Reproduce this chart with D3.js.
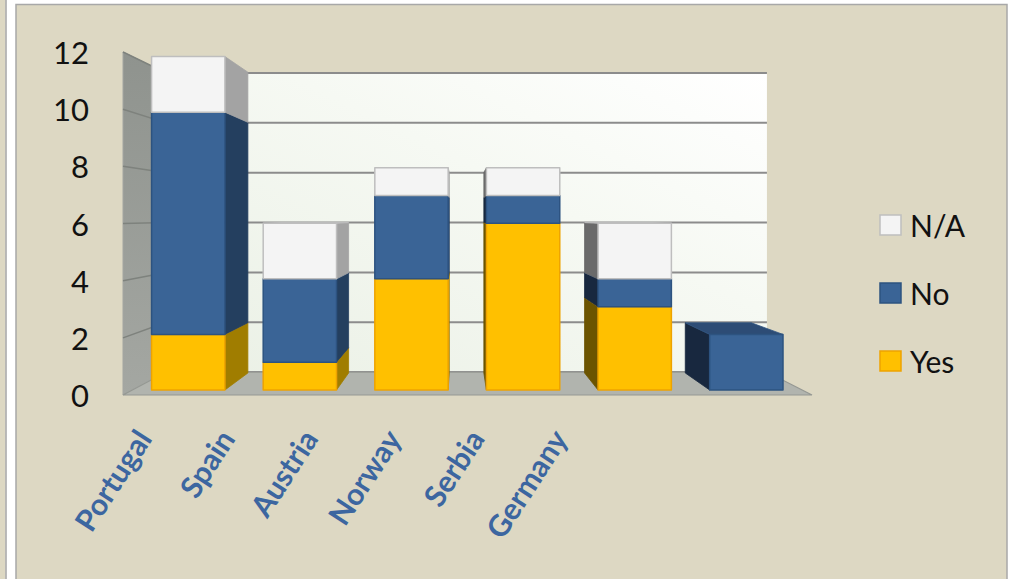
<!DOCTYPE html>
<html>
<head>
<meta charset="utf-8">
<script src="https://cdn.jsdelivr.net/npm/d3@7"></script>
<style>
  html, body { margin: 0; padding: 0; background: #ffffff; }
  svg { display: block; }
</style>
</head>
<body>
<svg id="chart" width="1009" height="579"></svg>
<script>
// ---- data ----
const categories = ["Portugal", "Spain", "Austria", "Norway", "Serbia", "Germany"];
const seriesNames = ["Yes", "No", "N/A"];
const yesValues = [2, 1, 4, 6, 3, 0];
const noValues  = [8, 3, 3, 1, 1, 2];
const naValues  = [2, 2, 1, 1, 2, 0];
const yTicks = [0, 2, 4, 6, 8, 10, 12];
const legendOrder = ["N/A", "No", "Yes"];

// ---- style ----
const palette = {
  "Yes": { front: "#FFC000", stroke: "#EEA300", right: "#A07D00", left: "#6C5400", top: "#E2AA00" },
  "No":  { front: "#3A6496", stroke: "#2D5380", right: "#243F5F", left: "#18283F", top: "#2D4C75" },
  "N/A": { front: "#F4F4F4", stroke: "#BEBEBE", right: "#A3A3A3", left: "#6A6A6A", top: "#DADADA" }
};

const svg = d3.select("#chart");
const W = 1009, H = 579;

// page frame
svg.append("rect").attr("x", 0).attr("y", 0).attr("width", W).attr("height", H).attr("fill", "#ffffff");
svg.append("rect").attr("x", 0).attr("y", 0).attr("width", 5.5).attr("height", H).attr("fill", "#DDD8C3");
svg.append("line").attr("x1", 6).attr("x2", 6).attr("y1", 0).attr("y2", H).attr("stroke", "#A5A5A5").attr("stroke-width", 1.5);
svg.append("rect").attr("x", 16).attr("y", 4.5).attr("width", 991).attr("height", H).attr("fill", "#DDD8C3")
  .attr("stroke", "#A8A8A8").attr("stroke-width", 1.5);

// ---- scales ----
const x = d3.scaleBand().domain(categories).range([123, 812]).paddingInner(0.343).paddingOuter(0.1715);
const y = d3.scaleLinear().domain([0, 12]).range([395, 52]);

// perspective: depth given as a scale factor toward the vanishing point
const vx = 460, vy = 216;
const S_BAR_FRONT = 0.972, S_BAR_BACK = 0.877, S_WALL = 0.872;
const P = (px, py, s) => [vx + s * (px - vx), vy + s * (py - vy)];
const poly = pts => "M" + pts.map(p => p[0].toFixed(2) + "," + p[1].toFixed(2)).join("L") + "Z";

const defs = svg.append("defs");
const gWall = defs.append("linearGradient").attr("id", "wallGrad")
  .attr("x1", "0").attr("y1", "1").attr("x2", "1").attr("y2", "0");
gWall.append("stop").attr("offset", "0").attr("stop-color", "#EAF0E5");
gWall.append("stop").attr("offset", "0.6").attr("stop-color", "#F6F9F3");
gWall.append("stop").attr("offset", "1").attr("stop-color", "#FFFFFF");
const gSide = defs.append("linearGradient").attr("id", "sideGrad")
  .attr("x1", "0").attr("y1", "0").attr("x2", "0").attr("y2", "1");
gSide.append("stop").attr("offset", "0").attr("stop-color", "#8F938E");
gSide.append("stop").attr("offset", "1").attr("stop-color", "#A4A7A2");

const [x0, x1] = x.range();
const yMax = y(d3.max(yTicks)), yMin = y(0);

// ---- walls and floor ----
svg.append("path").attr("d", poly([P(x0, yMax, S_WALL), P(x1, yMax, S_WALL), P(x1, yMin, S_WALL), P(x0, yMin, S_WALL)]))
  .attr("fill", "url(#wallGrad)");
svg.append("path").attr("d", poly([P(x0, yMax, 1), P(x0, yMax, S_WALL), P(x0, yMin, S_WALL), P(x0, yMin, 1)]))
  .attr("fill", "url(#sideGrad)").attr("stroke", "#A3A6A1").attr("stroke-width", 1);

// gridlines on back wall and side wall
const grid = svg.append("g").attr("stroke", "#8C8C8C").attr("stroke-width", 2).attr("fill", "none");
yTicks.forEach(t => {
  const a = P(x0, y(t), S_WALL), b = P(x1, y(t), S_WALL);
  grid.append("line").attr("x1", a[0]).attr("y1", a[1]).attr("x2", b[0]).attr("y2", b[1]);
  const c = P(x0, y(t), 1);
  if (t > 0) grid.append("line").attr("x1", c[0]).attr("y1", c[1]).attr("x2", a[0]).attr("y2", a[1])
    .attr("stroke", "#7E827D").attr("stroke-width", 1.5);
});

svg.append("path").attr("d", poly([P(x0, yMin, 1), P(x1, yMin, 1), P(x1, yMin, S_WALL), P(x0, yMin, S_WALL)]))
  .attr("fill", "#B1B4AE").attr("stroke", "#959893").attr("stroke-width", 1.2);

// ---- stacked boxes ----
const rows = categories.map((c, i) => ({ category: c, "Yes": yesValues[i], "No": noValues[i], "N/A": naValues[i] }));
const layers = d3.stack().keys(seriesNames)(rows);

const segments = [];
layers.forEach((layer, si) => {
  layer.forEach((d, ci) => {
    if (d[1] > d[0]) segments.push({ key: layer.key, si, ci, y0: d[0], y1: d[1], category: d.data.category });
  });
});
segments.sort((a, b) => a.ci - b.ci || a.si - b.si);

const bars = svg.append("g");
segments.forEach(sg => {
  const c = palette[sg.key];
  const xl = x(sg.category), xr = xl + x.bandwidth();
  const yb = y(sg.y0), yt = y(sg.y1);
  const g = bars.append("g").attr("stroke-linejoin", "round");
  if (xr < vx) {
    g.append("path").attr("d", poly([P(xr, yt, S_BAR_FRONT), P(xr, yt, S_BAR_BACK), P(xr, yb, S_BAR_BACK), P(xr, yb, S_BAR_FRONT)]))
      .attr("fill", c.right).attr("stroke", c.right).attr("stroke-width", 0.8);
  }
  if (xl > vx) {
    g.append("path").attr("d", poly([P(xl, yt, S_BAR_FRONT), P(xl, yt, S_BAR_BACK), P(xl, yb, S_BAR_BACK), P(xl, yb, S_BAR_FRONT)]))
      .attr("fill", c.left).attr("stroke", c.left).attr("stroke-width", 0.8);
  }
  if (yt > vy) {
    g.append("path").attr("d", poly([P(xl, yt, S_BAR_FRONT), P(xr, yt, S_BAR_FRONT), P(xr, yt, S_BAR_BACK), P(xl, yt, S_BAR_BACK)]))
      .attr("fill", c.top).attr("stroke", c.stroke).attr("stroke-width", 0.8);
  }
  g.append("path").attr("d", poly([P(xl, yt, S_BAR_FRONT), P(xr, yt, S_BAR_FRONT), P(xr, yb, S_BAR_FRONT), P(xl, yb, S_BAR_FRONT)]))
    .attr("fill", c.front).attr("stroke", c.stroke).attr("stroke-width", 1.5);
});

// ---- value axis labels ----
svg.append("g").selectAll("text").data(yTicks).join("text")
  .attr("x", 89).attr("y", d => y(d))
  .attr("text-anchor", "end").attr("dominant-baseline", "central")
  .attr("font-family", "Lato, 'Open Sans', sans-serif").attr("font-size", 31)
  .attr("fill", "#111111").text(d => d);

// ---- category labels ----
const labelX = d3.scalePoint().domain(categories).range([153, 569]);
svg.append("g").selectAll("text").data(categories).join("text")
  .attr("transform", d => `translate(${labelX(d)},439) rotate(-57)`)
  .attr("text-anchor", "end")
  .attr("font-family", "Lato, 'Open Sans', sans-serif").attr("font-weight", "bold").attr("font-size", 30)
  .attr("fill", "#3C66A0").text(d => d);

// ---- legend ----
const legendY = d3.scalePoint().domain(legendOrder).range([225, 361]);
const legend = svg.append("g");
legendOrder.forEach(k => {
  const c = palette[k];
  legend.append("rect").attr("x", 880).attr("y", legendY(k) - 10).attr("width", 21).attr("height", 20)
    .attr("fill", c.front).attr("stroke", c.stroke).attr("stroke-width", 1.5);
  legend.append("text").attr("x", 910).attr("y", legendY(k)).attr("dominant-baseline", "central")
    .attr("font-family", "Lato, 'Open Sans', sans-serif").attr("font-size", 30).attr("fill", "#111111").text(k);
});
</script>
</body>
</html>
